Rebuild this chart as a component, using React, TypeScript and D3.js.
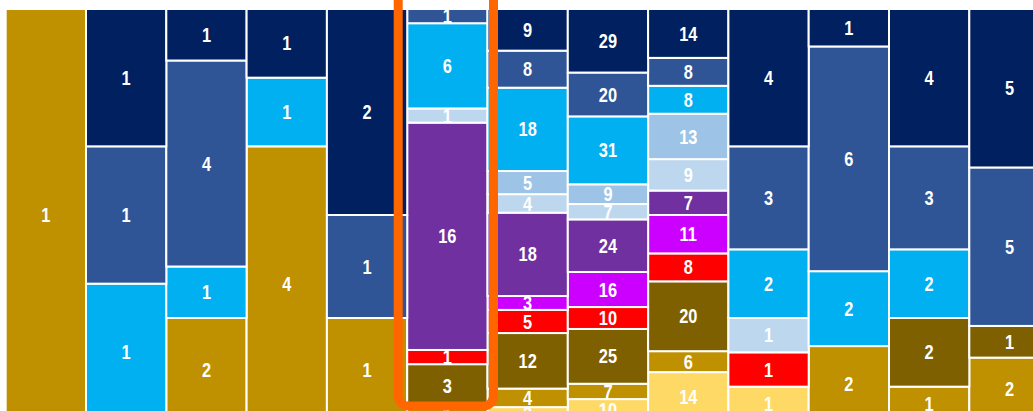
import React, { useEffect, useRef } from 'react';
import * as d3 from 'd3';

// columns (no visible labels on the picture)
const columns = ['C1', 'C2', 'C3', 'C4', 'C5', 'C6', 'C7', 'C8', 'C9', 'C10', 'C11', 'C12', 'C13'];

// series values, top of the stack first
const navy = [0, 1, 1, 1, 2, 0, 9, 29, 14, 4, 1, 4, 5];
const midBlue = [0, 1, 4, 0, 1, 1, 8, 20, 8, 3, 6, 3, 5];
const cyan = [0, 1, 1, 1, 0, 6, 18, 31, 8, 2, 2, 2, 0];
const lightBlue = [0, 0, 0, 0, 0, 0, 5, 9, 13, 0, 0, 0, 0];
const paleBlue = [0, 0, 0, 0, 0, 1, 4, 7, 9, 1, 0, 0, 0];
const purple = [0, 0, 0, 0, 0, 16, 18, 24, 7, 0, 0, 0, 0];
const magenta = [0, 0, 0, 0, 0, 0, 3, 16, 11, 0, 0, 0, 0];
const red = [0, 0, 0, 0, 0, 1, 5, 10, 8, 1, 0, 0, 0];
const olive = [0, 0, 0, 0, 0, 3, 12, 25, 20, 0, 0, 2, 1];
const gold = [1, 0, 2, 4, 1, 1, 4, 7, 6, 0, 2, 1, 2];
const lightYellow = [0, 0, 0, 0, 0, 0, 3, 10, 14, 1, 0, 0, 0];

const highlighted = 'C6';

const series: { key: string; values: number[]; color: string }[] = [
  { key: 'navy', values: navy, color: '#002060' },
  { key: 'midBlue', values: midBlue, color: '#2F5597' },
  { key: 'cyan', values: cyan, color: '#00B0F0' },
  { key: 'lightBlue', values: lightBlue, color: '#9DC3E6' },
  { key: 'paleBlue', values: paleBlue, color: '#BDD7EE' },
  { key: 'purple', values: purple, color: '#7030A0' },
  { key: 'magenta', values: magenta, color: '#CC00FF' },
  { key: 'red', values: red, color: '#FF0000' },
  { key: 'olive', values: olive, color: '#7F6000' },
  { key: 'gold', values: gold, color: '#BF9000' },
  { key: 'lightYellow', values: lightYellow, color: '#FFD966' },
];

const App = () => {
  const chartRef = useRef<SVGSVGElement>(null);

  useEffect(() => {
    if (chartRef.current) drawChart();
  }, []);

  const drawChart = () => {
    const svg = d3.select(chartRef.current);
    svg.selectAll('*').remove();

    const rows = columns.map((c, i) => {
      const r: any = { col: c };
      series.forEach(s => (r[s.key] = s.values[i]));
      return r;
    });

    // bottom of the stack first
    const keys = series.map(s => s.key).reverse();
    const colorOf = new Map(series.map(s => [s.key, s.color]));

    const stacked = d3.stack<any>()
      .keys(keys)
      .offset(d3.stackOffsetExpand)(rows);

    const step = 80.3;
    const x = d3.scaleBand()
      .domain(columns)
      .range([5.7, 5.7 + step * columns.length])
      .padding(0);

    // chart runs a little past the bottom of the picture
    const y = d3.scaleLinear().domain([0, 1]).range([421, 9]);

    const layer = svg.selectAll('g.layer')
      .data(stacked)
      .enter()
      .append('g')
      .attr('class', 'layer')
      .attr('fill', d => colorOf.get(d.key) || '#ccc');

    layer.selectAll('rect')
      .data(d => d.filter(p => p[1] - p[0] > 0))
      .enter()
      .append('rect')
      .attr('x', d => x(d.data.col) || 0)
      .attr('width', x.bandwidth())
      .attr('y', d => y(d[1]))
      .attr('height', d => y(d[0]) - y(d[1]))
      .attr('stroke', '#fff')
      .attr('stroke-width', 2);

    // value labels (condensed bold look)
    stacked.forEach(s => {
      svg.append('g')
        .selectAll('text')
        .data(s.filter(p => p[1] - p[0] > 0))
        .enter()
        .append('text')
        .attr('transform', d => {
          const cx = (x(d.data.col) || 0) + x.bandwidth() / 2;
          const cy = (y(d[0]) + y(d[1])) / 2;
          return `translate(${cx},${cy}) scale(0.82,1)`;
        })
        .attr('text-anchor', 'middle')
        .attr('dominant-baseline', 'central')
        .attr('fill', '#fff')
        .style('font-family', '"Liberation Sans", Arial, sans-serif')
        .style('font-weight', 'bold')
        .style('font-size', '20px')
        .text(d => String(d.data[s.key]));
    });

    // orange highlight frame
    const hx = x(highlighted) || 0;
    svg.append('rect')
      .attr('x', hx - 9)
      .attr('y', -30)
      .attr('width', x.bandwidth() + 15)
      .attr('height', 436)
      .attr('rx', 10)
      .attr('fill', 'none')
      .attr('stroke', '#FF6600')
      .attr('stroke-width', 9);
  };

  return (
    <svg
      ref={chartRef}
      width={1033}
      height={411}
      style={{ position: 'absolute', left: 0, top: 0, display: 'block', background: '#fff' }}
    />
  );
};

export default App;
